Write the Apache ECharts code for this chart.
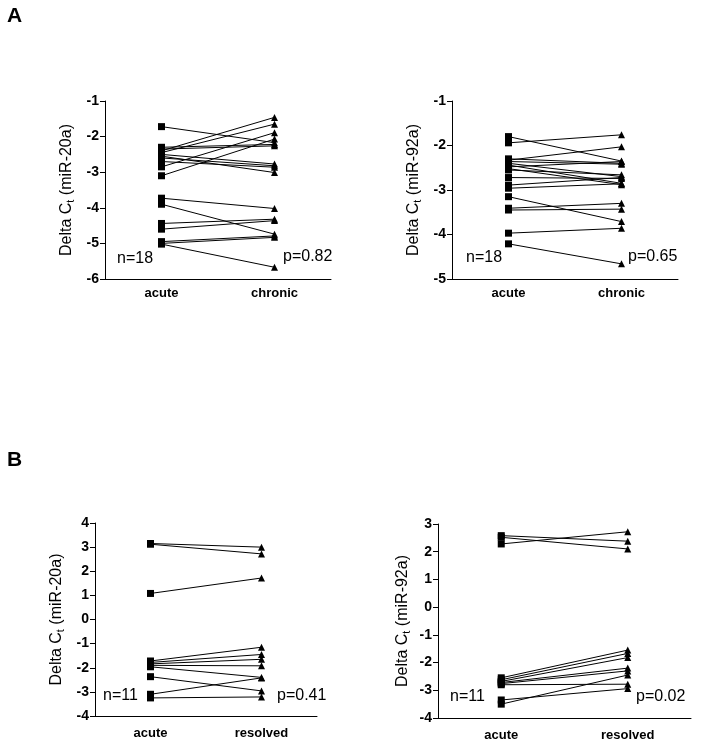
<!DOCTYPE html>
<html>
<head>
<meta charset="utf-8">
<script src="https://cdn.jsdelivr.net/npm/echarts@6/dist/echarts.min.js"></script>
<style>
html,body{margin:0;padding:0;background:#fff;}
#chart{width:704px;height:750px;}
</style>
</head>
<body>
<div id="chart"></div>
<script>
// ---- data ----
var catsA = ['acute', 'chronic'];
var catsB = ['acute', 'resolved'];

// Panel A, miR-20a (n=18)
var a20Acute   = [-1.72, -2.40, -2.45, -2.85, -3.10, -2.30, -2.35, -2.50, -2.60, -2.70, -2.55, -3.73, -3.90, -4.44, -4.60, -4.95, -5.00, -5.02];
var a20Chronic = [-2.17, -1.46, -1.65, -1.89, -2.07, -2.22, -2.26, -2.77, -2.82, -2.86, -3.01, -4.02, -4.74, -4.32, -4.36, -4.79, -4.83, -5.67];

// Panel A, miR-92a (n=18)
var a92Acute   = [-1.80, -1.94, -2.30, -2.33, -2.36, -2.40, -2.44, -2.48, -2.52, -2.55, -2.72, -2.89, -2.96, -3.15, -3.41, -3.45, -3.97, -4.21];
var a92Chronic = [-2.35, -1.76, -2.40, -2.03, -2.42, -2.70, -2.85, -2.36, -2.88, -2.66, -2.74, -2.72, -2.86, -3.71, -3.30, -3.43, -3.86, -4.66];

// Panel B, miR-20a (n=11)
var b20Acute    = [3.15, 3.12, 1.08, -1.72, -1.78, -1.84, -1.90, -1.96, -2.37, -3.10, -3.25];
var b20Resolved = [3.00, 2.72, 1.72, -1.15, -1.45, -1.65, -1.92, -2.40, -2.96, -2.42, -3.21];

// Panel B, miR-92a (n=11)
var b92Acute    = [2.58, 2.52, 2.28, -2.55, -2.62, -2.68, -2.72, -2.76, -2.80, -3.35, -3.50];
var b92Resolved = [2.38, 2.10, 2.72, -1.55, -1.67, -1.82, -2.20, -2.30, -2.78, -2.94, -2.45];

// axis ranges (tick labels come from min..max by interval)
var yRangeA20 = [-6, -1];
var yRangeA92 = [-5, -1];
var yRangeB20 = [-4, 4];
var yRangeB92 = [-4, 3];

var nTexts = ['n=18', 'n=18', 'n=11', 'n=11'];
var pTexts = ['p=0.82', 'p=0.65', 'p=0.41', 'p=0.02'];
var yNames = ['miR-20a', 'miR-92a', 'miR-20a', 'miR-92a'];

// ---- chart ----
var FF = '"Liberation Sans", Arial, Helvetica, sans-serif';
var grids = [
  {left: 105, top: 101, width: 226, height: 178},
  {left: 452, top: 101, width: 226, height: 178},
  {left: 95,  top: 523, width: 222, height: 193},
  {left: 438, top: 524, width: 253, height: 194}
];
var ranges = [yRangeA20, yRangeA92, yRangeB20, yRangeB92];
var cats = [catsA, catsA, catsB, catsB];
var nameGaps = [28, 28, 28, 25];
var xMargins = [8, 8, 11, 11];

var xAxes = [], yAxes = [], series = [];
for (var i = 0; i < 4; i++) {
  xAxes.push({
    gridIndex: i, type: 'category', data: cats[i], boundaryGap: true,
    axisLine: {onZero: false, lineStyle: {color: '#000', width: 1}},
    axisTick: {alignWithLabel: true, length: 5, lineStyle: {color: '#000'}},
    axisLabel: {color: '#000', fontWeight: 'bold', fontSize: 13, fontFamily: FF, margin: xMargins[i]},
    splitLine: {show: false}
  });
  yAxes.push({
    gridIndex: i, type: 'value', min: ranges[i][0], max: ranges[i][1], interval: 1,
    axisLine: {show: true, onZero: false, lineStyle: {color: '#000', width: 1}},
    axisTick: {show: true, length: 5, lineStyle: {color: '#000'}},
    axisLabel: {color: '#000', fontWeight: 'bold', fontSize: 14, fontFamily: FF, margin: 6},
    splitLine: {show: false},
    name: '{n|Delta C}{s|t}{n| (' + yNames[i] + ')}',
    nameLocation: 'middle', nameGap: nameGaps[i], nameRotate: 90,
    nameTextStyle: {
      color: '#000', fontFamily: FF,
      rich: {
        n: {fontSize: 16, fontFamily: FF, color: '#000', lineHeight: 20},
        s: {fontSize: 11, fontFamily: FF, color: '#000', padding: [7, 0, 0, 0]}
      }
    }
  });
}

function addPairs(gi, first, second) {
  for (var k = 0; k < first.length; k++) {
    series.push({
      type: 'line', xAxisIndex: gi, yAxisIndex: gi,
      data: [{value: first[k], symbol: 'rect'}, {value: second[k], symbol: 'triangle'}],
      symbolSize: 7, showSymbol: true,
      lineStyle: {color: '#000', width: 1},
      itemStyle: {color: '#000'},
      silent: true, z: 3
    });
  }
}
addPairs(0, a20Acute, a20Chronic);
addPairs(1, a92Acute, a92Chronic);
addPairs(2, b20Acute, b20Resolved);
addPairs(3, b92Acute, b92Resolved);

var txtStyle = function (x, y, t) {
  return {type: 'text', left: x, top: y, style: {text: t, fill: '#000', font: '16px ' + FF}};
};
var graphics = [
  {type: 'text', left: 7, top: 6, style: {text: 'A', fill: '#000', font: 'bold 21px ' + FF}},
  {type: 'text', left: 7, top: 450, style: {text: 'B', fill: '#000', font: 'bold 21px ' + FF}},
  txtStyle(117, 251, nTexts[0]),
  txtStyle(283, 249, pTexts[0]),
  txtStyle(466, 250, nTexts[1]),
  txtStyle(628, 249, pTexts[1]),
  txtStyle(103, 688, nTexts[2]),
  txtStyle(277, 688, pTexts[2]),
  txtStyle(450, 689, nTexts[3]),
  txtStyle(636, 689, pTexts[3])
];

var chart = echarts.init(document.getElementById('chart'), null, {renderer: 'canvas'});
chart.setOption({
  animation: false,
  backgroundColor: '#fff',
  grid: grids,
  xAxis: xAxes,
  yAxis: yAxes,
  series: series,
  graphic: graphics
});
</script>
</body>
</html>
